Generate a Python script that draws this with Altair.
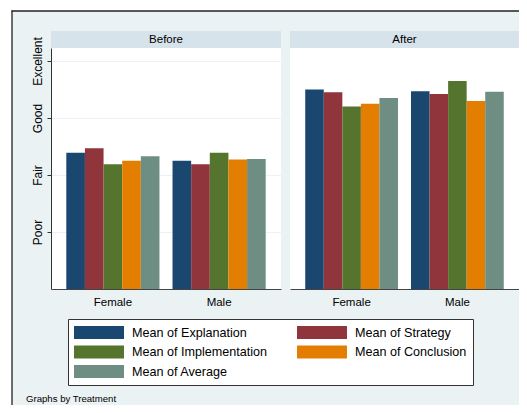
import altair as alt
import pandas as pd

# ---- data ----
treatments = ["Before", "After"]
genders = ["Female", "Male"]
measures = ["Mean of Explanation", "Mean of Strategy", "Mean of Implementation",
            "Mean of Conclusion", "Mean of Average"]
colors = ["#1a476f", "#90353b", "#55752f", "#e37e00", "#6e8e84"]
before_female = [2.39, 2.47, 2.19, 2.25, 2.33]
before_male = [2.25, 2.19, 2.39, 2.27, 2.28]
after_female = [3.50, 3.45, 3.20, 3.25, 3.35]
after_male = [3.47, 3.42, 3.65, 3.30, 3.46]
rating_values = [1, 2, 3, 4]
rating_labels = ["Poor", "Fair", "Good", "Excellent"]
footnote = "Graphs by Treatment"

rows = []
for t, series in zip(treatments, [(before_female, before_male), (after_female, after_male)]):
    for g, vals in zip(genders, series):
        for m, v in zip(measures, vals):
            rows.append({"treatment": t, "gender": g, "measure": m, "value": v})
df = pd.DataFrame(rows)

# ---- layout ----
W, H = 468, 241
P1 = (0, 230)
P2 = (239, 468)
STRIP = 17
BG = "#eaf2f3"
STRIP_C = "#d7e3ea"
FONT = "Liberation Sans"

label_expr = " : ".join(
    f"datum.value == {v} ? '{l}'" for v, l in zip(rating_values, rating_labels)
) + " : ''"

yscale = alt.Scale(domain=[0, 4.228], nice=False, zero=True)
yaxis = alt.Axis(values=rating_values, labelExpr=label_expr, title=None,
                 labelAngle=270, labelAlign="center", labelBaseline="bottom",
                 tickSize=4, tickColor="#333333", domainColor="#333333",
                 labelFont=FONT, labelFontSize=12, labelColor="black",
                 labelPadding=3, grid=True, gridColor="#edf2f4", zindex=0)

color = alt.Color("measure:N", scale=alt.Scale(domain=measures, range=colors),
                  legend=alt.Legend(orient="none", legendX=17, legendY=271,
                                    direction="horizontal",
                                    columns=2, title=None, fillColor="white",
                                    strokeColor="#333333", padding=6,
                                    symbolType="M-1,-0.26H1V0.26H-1Z",
                                    symbolSize=2500, symbolStrokeWidth=0,
                                    symbolOpacity=1, labelOffset=8,
                                    clipHeight=15,
                                    columnPadding=29, rowPadding=4.5,
                                    labelFont=FONT, labelFontSize=12.6,
                                    labelColor="black", labelLimit=300))


def bars(treat, rng):
    return alt.Chart(df).transform_filter(
        alt.datum.treatment == treat
    ).mark_bar(strokeWidth=0).encode(
        x=alt.X("gender:N",
                scale=alt.Scale(domain=genders, range=list(rng),
                                paddingInner=0.123, paddingOuter=0.144),
                axis=alt.Axis(title=None, orient="bottom", labelAngle=0,
                              ticks=False, domainColor="#444444",
                              labelFont=FONT, labelFontSize=11.5,
                              labelColor="black", labelPadding=7,
                              grid=False, zindex=1)),
        xOffset=alt.XOffset("measure:N",
                            scale=alt.Scale(domain=measures, paddingInner=0,
                                            paddingOuter=0)),
        y=alt.Y("value:Q", scale=yscale, axis=yaxis),
        color=color,
    )


one = pd.DataFrame({"k": [0]})


def rect(x, x2, y, y2, fill, **kw):
    return alt.Chart(one).mark_rect(fill=fill, strokeWidth=0, **kw).encode(
        x=alt.value(x), x2=alt.value(x2), y=alt.value(y), y2=alt.value(y2))


def label(text, x, y, size, align="center"):
    return alt.Chart(one).mark_text(text=text, font=FONT, fontSize=size,
                                    color="black", align=align,
                                    baseline="middle").encode(
        x=alt.value(x), y=alt.value(y))


frame_left = alt.Chart(one).mark_rule(color="#222222", strokeWidth=1.3).encode(
    x=alt.value(-39), y=alt.value(-37.5), y2=alt.value(360))
frame_top = alt.Chart(one).mark_rule(color="#222222", strokeWidth=1.3).encode(
    x=alt.value(-39.5), x2=alt.value(470), y=alt.value(-37))

layers = [
    rect(-43, -39, -40, 360, "white"),
    rect(-43, 470, -40, -37, "white"),
    frame_left,
    frame_top,
    rect(P1[1], P2[0], 0, H, BG),
    rect(P1[0], P1[1], -STRIP, 0, STRIP_C),
    rect(P2[0], P2[1], -STRIP, 0, STRIP_C),
    label(treatments[0], (P1[0] + P1[1]) / 2, -8.5, 11.5),
    label(treatments[1], (P2[0] + P2[1]) / 2, -8.5, 11.5),
    bars(treatments[0], P1),
    bars(treatments[1], P2),
    label(footnote, -25, 351, 9.6, align="left"),
]

chart = alt.layer(*layers).properties(
    width=W, height=H,
    padding={"left": 43, "top": 40, "right": 0, "bottom": 116},
    autosize=alt.AutoSizeParams(type="none"),
    background=BG,
).resolve_scale(x="independent", xOffset="independent").configure_view(
    stroke=None, fill="white")

chart.save("out.html", embed_options={"renderer": "svg", "actions": False})
